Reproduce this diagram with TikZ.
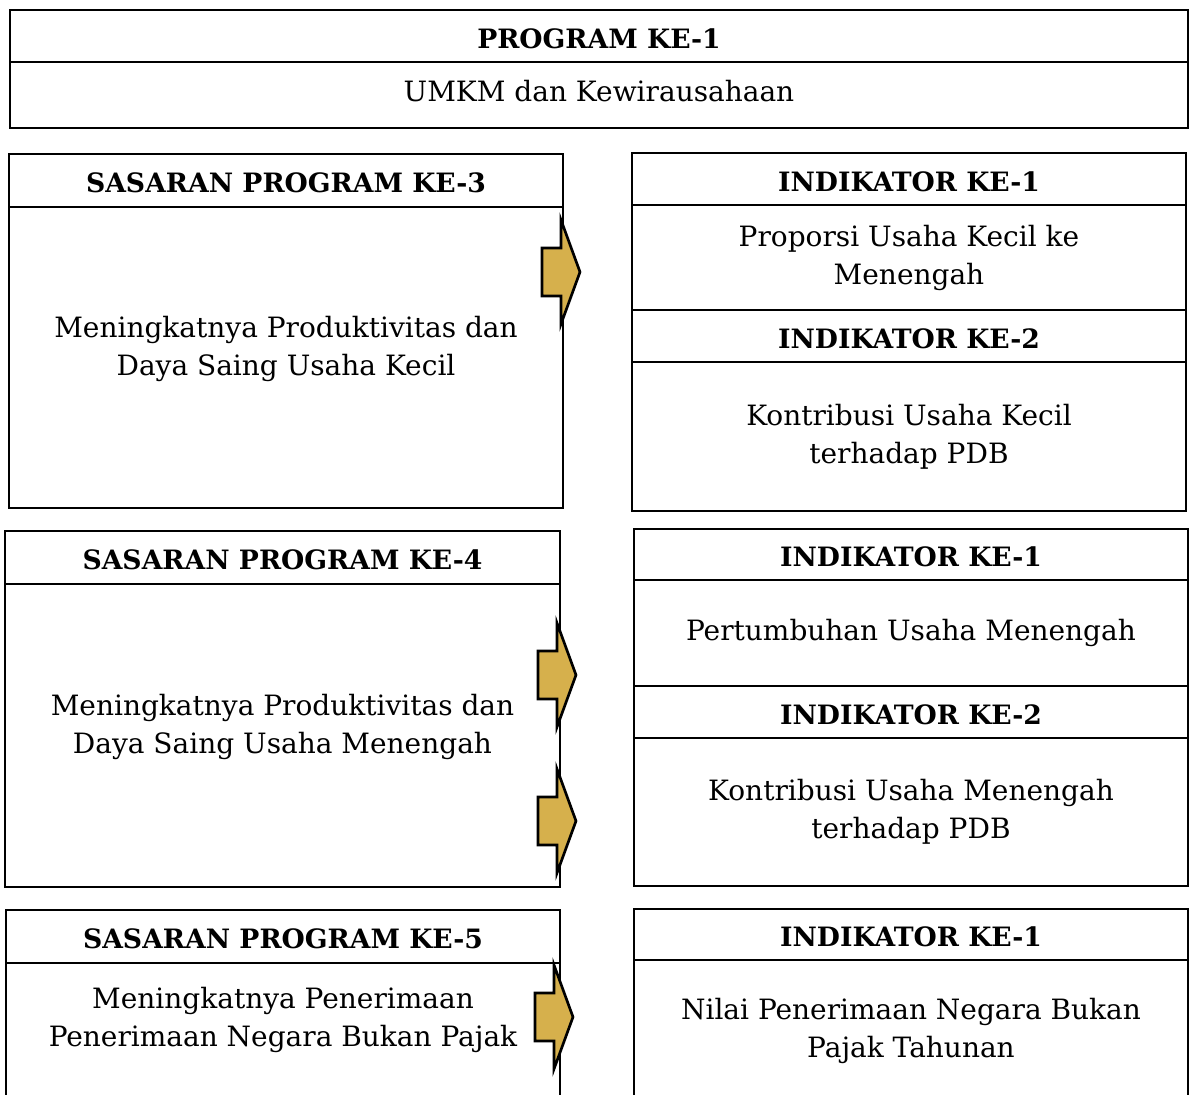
\documentclass[tikz,border=0pt]{standalone}
\usepackage{fontspec}
\setmainfont{DejaVu Serif}
\usetikzlibrary{positioning}
\definecolor{Garis}{HTML}{000000}
\definecolor{Emas}{HTML}{D6B04C}
\tikzset{
  kotak/.style={draw=Garis,fill=white,line width=2.2pt,inner sep=0pt,outer sep=0pt,align=center,font=\fontsize{21}{28.5}\selectfont},
  judul/.style={kotak,font=\fontsize{20}{28.5}\selectfont\bfseries,text height=19pt},
  isi/.style={kotak},
  terbuka/.style={kotak,draw=none,fill=none},
  tepi/.style={draw=Garis,line width=2.2pt},
  pics/panah/.style={code={\draw[draw=Garis,fill=Emas,line width=2pt,line join=miter] (-19,-24) -- (0,-24) -- (0,-52) -- (19,0) -- (0,52) -- (0,24) -- (-19,24) -- cycle;}}
}
\begin{document}
\begin{tikzpicture}[x=0.75pt,y=-0.75pt,node distance=0pt]
  \useasboundingbox (0,0) rectangle (1190,1095);
  \clip (0,0) rectangle (1190,1095);
  % program
  \node[judul,minimum width=883.5pt,minimum height=39pt,anchor=north west] (progh) at (10,10) {PROGRAM KE-1};
  \node[isi,minimum width=883.5pt,minimum height=49.5pt,text depth=6pt,below=of progh] (prog) {UMKM dan Kewirausahaan};
  % sasaran 3
  \node[judul,minimum width=415.5pt,minimum height=39.75pt,anchor=north west] (s3h) at (9,154) {SASARAN PROGRAM KE-3};
  \node[isi,minimum width=415.5pt,minimum height=225.75pt,text depth=17pt,below=of s3h] (s3) {Meningkatnya Produktivitas dan\\Daya Saing Usaha Kecil};
  \node[judul,minimum width=415.5pt,minimum height=39pt,anchor=north west] (i1h) at (632,153) {INDIKATOR KE-1};
  \node[isi,minimum width=415.5pt,minimum height=78.75pt,below=of i1h] (i1) {Proporsi Usaha Kecil ke\\Menengah};
  \node[judul,minimum width=415.5pt,minimum height=39pt,below=of i1] (i2h) {INDIKATOR KE-2};
  \node[isi,minimum width=415.5pt,minimum height=111.75pt,below=of i2h] (i2) {Kontribusi Usaha Kecil\\terhadap PDB};
  % sasaran 4
  \node[judul,minimum width=416.25pt,minimum height=39.75pt,anchor=north west] (s4h) at (5,531) {SASARAN PROGRAM KE-4};
  \node[isi,minimum width=416.25pt,minimum height=227.25pt,text depth=17pt,below=of s4h] (s4) {Meningkatnya Produktivitas dan\\Daya Saing Usaha Menengah};
  \node[judul,minimum width=415.5pt,minimum height=38.25pt,anchor=north west] (j1h) at (634,529) {INDIKATOR KE-1};
  \node[isi,minimum width=415.5pt,minimum height=79.5pt,below=of j1h] (j1) {Pertumbuhan Usaha Menengah};
  \node[judul,minimum width=415.5pt,minimum height=39pt,below=of j1] (j2h) {INDIKATOR KE-2};
  \node[isi,minimum width=415.5pt,minimum height=111pt,below=of j2h] (j2) {Kontribusi Usaha Menengah\\terhadap PDB};
  % sasaran 5
  \node[judul,minimum width=415.5pt,minimum height=39.75pt,anchor=north west] (s5h) at (6,910) {SASARAN PROGRAM KE-5};
  \node[terbuka,minimum width=415.5pt,minimum height=85.5pt,below=of s5h] (s5) {Meningkatnya Penerimaan\\Penerimaan Negara Bukan Pajak};
  \draw[tepi] (s5.north west) -- ++(0,200) (s5.north east) -- ++(0,200);
  \node[judul,minimum width=415.5pt,minimum height=38.25pt,anchor=north west] (k1h) at (634,909) {INDIKATOR KE-1};
  \node[terbuka,minimum width=415.5pt,minimum height=106.5pt,below=of k1h] (k1) {Nilai Penerimaan Negara Bukan\\Pajak Tahunan};
  \draw[tepi] (k1.north west) -- ++(0,200) (k1.north east) -- ++(0,200);
  % panah
  \pic at (561,272) {panah};
  \pic at (557,675) {panah};
  \pic at (557,821) {panah};
  \pic at (554,1017) {panah};
\end{tikzpicture}
\end{document}
